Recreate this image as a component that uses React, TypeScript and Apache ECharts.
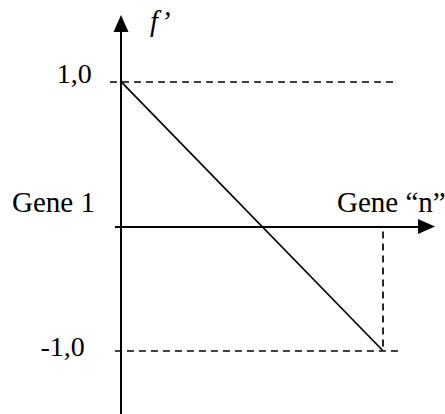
import { useEffect, useRef } from 'react';
import * as echarts from 'echarts';

// Straight line f' from Gene 1 (x = 0) to Gene "n" (x = 1)
const geneX = [0, 1];
const fPrime = [1.0, -1.0];

// Tick labels on the vertical axis
const yTickValues = [1.0, -1.0];
const yTickLabels = ['1,0', '-1,0'];

// Schematic axes and guides (data units)
const horizontalAxisLevel = -0.0775;
const xAxisExtent = [-0.023, 1.166];
const yAxisExtent = [-1.47, 1.432];
const upperGuideX = [-0.042, 1.042];
const lowerGuideX = [-0.023, 1.06];
const dropGuideY = [-0.114, -1.0];

const FAMILY = 'Liberation Serif';

export default function App() {
  const ref = useRef<HTMLDivElement>(null);

  useEffect(() => {
    if (!ref.current) return;
    const chart = echarts.init(ref.current, undefined, { renderer: 'svg' });

    const black = '#000';
    const dashed = { color: black, width: 1.7, type: [7, 5] as any };
    const solid = { color: black, width: 2, type: 'solid' as any };
    const arrowEnd = { symbol: 'triangle', symbolSize: [15, 17] };

    const textStyle = (text: string, italic = false) => ({
      text,
      fontFamily: FAMILY,
      fontSize: 29,
      fontStyle: italic ? 'italic' : 'normal',
      fill: black,
      align: 'left',
      verticalAlign: 'middle',
      textAlign: 'left',
      textVerticalAlign: 'middle',
    });

    chart.setOption({
      animation: false,
      backgroundColor: '#fff',
      grid: { left: 94.8, right: 7, top: 12.9, bottom: -2.7, containLabel: false },
      xAxis: {
        type: 'value',
        min: -0.1,
        max: 1.21,
        axisLine: { show: false },
        axisTick: { show: false },
        axisLabel: { show: false },
        splitLine: { show: false },
      },
      yAxis: {
        type: 'value',
        min: -1.47,
        max: 1.51,
        axisLine: { show: false },
        axisTick: { show: false },
        splitLine: { show: false },
        axisLabel: {
          show: true,
          customValues: yTickValues,
          margin: 3,
          formatter: (v: number) => {
            const i = yTickValues.findIndex((t) => Math.abs(t - v) < 1e-9);
            const label = i >= 0 ? yTickLabels[i] : '';
            return v > 0 ? `{p|${label}}` : `{n|${label}}`;
          },
          rich: {
            p: {
              fontFamily: FAMILY,
              fontSize: 28,
              color: black,
              padding: [0, 0, 17, 0],
            },
            n: {
              fontFamily: FAMILY,
              fontSize: 28,
              color: black,
              padding: [0, 7, 9, 0],
            },
          },
        },
      },
      graphic: [
        { type: 'text', x: 150, y: 21, silent: true, style: textStyle('f\u2019', true) },
        { type: 'text', x: 12, y: 202, silent: true, style: textStyle('Gene 1') },
        { type: 'text', x: 337, y: 202, silent: true, style: textStyle('Gene \u201Cn\u201D') },
      ],
      series: [
        {
          type: 'line',
          name: "f'",
          data: geneX.map((x, i) => [x, fPrime[i]]),
          symbol: 'none',
          clip: false,
          silent: true,
          lineStyle: { color: black, width: 1.7 },
          markLine: {
            silent: true,
            symbol: ['none', 'none'],
            label: { show: false },
            emphasis: { disabled: true },
            data: [
              // vertical axis with arrow
              [
                { coord: [0, yAxisExtent[0]], symbol: 'none', lineStyle: solid },
                { coord: [0, yAxisExtent[1]], ...arrowEnd },
              ],
              // horizontal axis with arrow
              [
                { coord: [xAxisExtent[0], horizontalAxisLevel], symbol: 'none', lineStyle: solid },
                { coord: [xAxisExtent[1], horizontalAxisLevel], ...arrowEnd },
              ],
              // dashed guide at 1,0
              [
                { coord: [upperGuideX[0], yTickValues[0]], symbol: 'none', lineStyle: dashed },
                { coord: [upperGuideX[1], yTickValues[0]], symbol: 'none' },
              ],
              // dashed guide at -1,0
              [
                { coord: [lowerGuideX[0], yTickValues[1]], symbol: 'none', lineStyle: dashed },
                { coord: [lowerGuideX[1], yTickValues[1]], symbol: 'none' },
              ],
              // dashed drop at Gene "n"
              [
                { coord: [geneX[1], dropGuideY[0]], symbol: 'none', lineStyle: dashed },
                { coord: [geneX[1], dropGuideY[1]], symbol: 'none' },
              ],
            ],
          },
        },
      ],
    });

    return () => chart.dispose();
  }, []);

  return (
    <div
      ref={ref}
      style={{ position: 'absolute', left: 0, top: 0, width: 445, height: 414 }}
    />
  );
}
